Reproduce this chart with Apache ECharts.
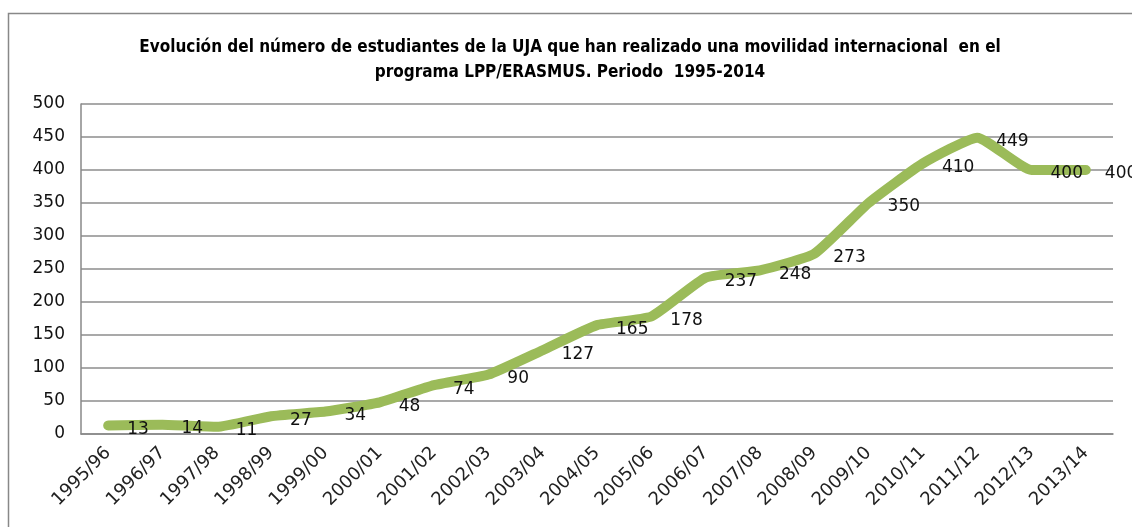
<!DOCTYPE html>
<html>
<head>
  <meta charset="UTF-8">
  <style>
    body { margin: 0; background: #fff; }
  </style>
  <script src="https://cdn.jsdelivr.net/npm/echarts@6/dist/echarts.min.js"></script>
</head>
<body>
  <div id="chart" style="width: 1132px; height: 527px;"></div>
  <script>
    const cursos = ['1995/96', '1996/97', '1997/98', '1998/99', '1999/00', '2000/01', '2001/02',
      '2002/03', '2003/04', '2004/05', '2005/06', '2006/07', '2007/08', '2008/09', '2009/10',
      '2010/11', '2011/12', '2012/13', '2013/14']
    const estudiantes = [13, 14, 11, 27, 34, 48, 74, 90, 127, 165, 178, 237, 248, 273, 350, 410, 449, 400, 400]

    const myChart = echarts.init(document.getElementById('chart'))

    const options = {
      animation: false,
      title: {
        text: 'Evolución del número de estudiantes de la UJA que han realizado una movilidad internacional  en el\nprograma LPP/ERASMUS. Periodo  1995-2014',
        left: 565,
        top: 30,
        textAlign: 'center',
        textStyle: {
          fontFamily: '"Liberation Sans Narrow", "DejaVu Sans Condensed", sans-serif',
          fontSize: 17,
          fontWeight: 'bold',
          color: '#000',
          lineHeight: 25
        }
      },
      graphic: [{
        type: 'rect',
        shape: { x: 8.5, y: 13.5, width: 1140, height: 530 },
        style: { fill: 'none', stroke: '#888', lineWidth: 1.5 },
        silent: true
      }],
      grid: {
        left: 81,
        right: 19,
        top: 104,
        bottom: 93
      },
      xAxis: {
        type: 'category',
        data: cursos,
        boundaryGap: true,
        axisLine: { lineStyle: { color: '#888', width: 1.5 } },
        axisTick: { show: false },
        axisLabel: {
          rotate: 45,
          interval: 0,
          margin: 16,
          fontFamily: 'Verdana, "DejaVu Sans", sans-serif',
          fontSize: 18,
          color: '#222'
        }
      },
      yAxis: {
        type: 'value',
        min: 0,
        max: 500,
        interval: 50,
        axisLine: { show: true, lineStyle: { color: '#888', width: 1.5 } },
        axisTick: { show: false },
        splitLine: { lineStyle: { color: '#8c8c8c', width: 1.5 } },
        axisLabel: {
          margin: 16,
          fontFamily: 'Verdana, "DejaVu Sans", sans-serif',
          fontSize: 17,
          color: '#111'
        }
      },
      series: [{
        type: 'line',
        data: estudiantes,
        smooth: 0.15,
        symbol: 'circle',
        symbolSize: 2,
        showAllSymbol: true,
        itemStyle: { color: 'rgba(155,187,89,0)' },
        lineStyle: { color: '#9bbb59', width: 10, cap: 'round', join: 'round' },
        label: {
          show: true,
          position: 'right',
          distance: 18,
          offset: [0, 4],
          fontFamily: 'Verdana, "DejaVu Sans", sans-serif',
          fontSize: 17,
          color: '#111'
        }
      }]
    }

    myChart.setOption(options)
  </script>
</body>
</html>
